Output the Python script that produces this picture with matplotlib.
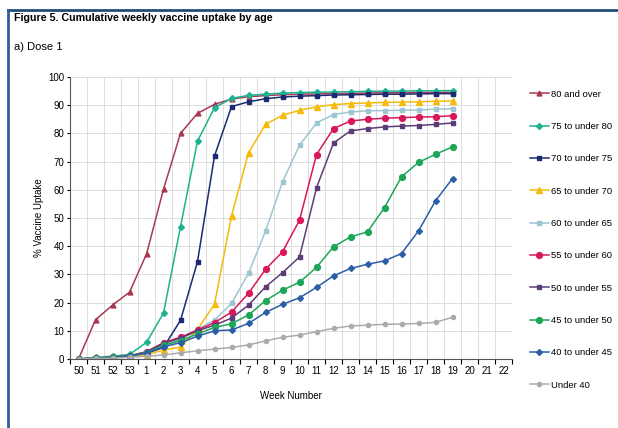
import matplotlib
matplotlib.use("Agg")
import matplotlib.pyplot as plt
from matplotlib.lines import Line2D
import numpy as np

plt.rcParams['font.family'] = ['Liberation Sans', 'DejaVu Sans']

weeks = ["50", "51", "52", "53"] + [str(i) for i in range(1, 23)]

series_names = ["80 and over", "75 to under 80", "70 to under 75", "65 to under 70",
                "60 to under 65", "55 to under 60", "50 to under 55", "45 to under 50",
                "40 to under 45", "Under 40"]

# values for weeks 50..53, 1..19
age80 = [0, 13.9, 19.1, 23.7, 37.2, 60.2, 80.0, 87.1, 90.3, 92.2, 93.0, 93.4, 93.7, 93.9,
         94.0, 94.1, 94.2, 94.3, 94.4, 94.4, 94.5, 94.5, 94.6]
age75 = [0, 0.6, 1.0, 1.6, 5.9, 16.3, 46.9, 77.3, 89.1, 92.4, 93.5, 93.9, 94.3, 94.5,
         94.6, 94.7, 94.8, 94.9, 95.0, 95.0, 95.1, 95.1, 95.2]
age70 = [0, 0.3, 0.6, 1.2, 2.0, 4.1, 13.7, 34.5, 72.0, 89.5, 91.2, 92.3, 92.9, 93.2,
         93.4, 93.6, 93.7, 93.8, 93.9, 93.9, 94.0, 94.1, 94.1]
age65 = [0, 0.2, 0.4, 0.8, 1.5, 3.2, 4.2, 10.5, 19.4, 50.7, 73.1, 83.2, 86.4, 88.2,
         89.4, 90.2, 90.6, 90.8, 91.0, 91.1, 91.2, 91.4, 91.5]
age60 = [0, 0.3, 0.6, 1.1, 2.4, 5.0, 6.8, 10.6, 13.8, 19.7, 30.4, 45.3, 62.8, 75.8,
         83.7, 86.7, 87.6, 88.0, 88.1, 88.2, 88.3, 88.6, 88.7]
age55 = [0, 0.3, 0.6, 1.1, 2.6, 5.8, 7.7, 10.3, 12.9, 16.6, 23.3, 31.8, 38.0, 49.2,
         72.5, 81.7, 84.4, 85.0, 85.4, 85.6, 85.8, 85.9, 86.3]
age50 = [0, 0.3, 0.6, 1.1, 2.5, 5.5, 7.4, 10.0, 12.0, 14.5, 19.1, 25.6, 30.6, 36.2,
         60.7, 76.6, 80.9, 81.7, 82.3, 82.6, 82.8, 83.2, 83.7]
age45 = [0, 0.3, 0.6, 1.0, 2.3, 4.8, 6.5, 8.9, 11.2, 12.5, 15.6, 20.7, 24.4, 27.2,
         32.5, 39.8, 43.3, 45.1, 53.7, 64.6, 69.7, 72.6, 75.2]
age40 = [0, 0.3, 0.5, 1.0, 2.1, 4.3, 5.8, 8.1, 10.0, 10.3, 12.6, 16.5, 19.4, 21.7,
         25.4, 29.5, 32.1, 33.6, 34.8, 37.4, 45.4, 56.1, 64.0]
under40 = [0, 0.2, 0.3, 0.6, 1.0, 1.4, 2.2, 2.9, 3.5, 4.1, 5.0, 6.4, 7.7, 8.5,
           9.7, 10.9, 11.7, 12.0, 12.3, 12.4, 12.6, 13.0, 14.8]

data = [age80, age75, age70, age65, age60, age55, age50, age45, age40, under40]
colors = ["#A63A50", "#1DB390", "#1B2A72", "#F5BA0A", "#9DC6D2",
          "#D8185A", "#5D3D78", "#1EA658", "#2C5EA8", "#ABABAB"]
markers = ["^", "D", "s", "^", "s", "o", "s", "o", "D", "o"]
msizes = [3.5, 3, 3.5, 4, 3.5, 4.2, 3.5, 4.2, 3, 3]

fig = plt.figure(figsize=(6.18, 4.28), dpi=100)
W, H = 618, 428

# frame lines
fig.add_artist(Line2D([8 / W, 1], [1 - 10 / H, 1 - 10 / H], color="#1F4E79", lw=2))
fig.add_artist(Line2D([8 / W, 8 / W], [0, 1 - 10 / H], color="#2E5E9E", lw=2))

fig.text(14 / W, 1 - 18 / H, "Figure 5. Cumulative weekly vaccine uptake by age",
         fontsize=7.7, fontweight="bold", va="center", ha="left")
fig.text(14 / W, 1 - 47 / H, "a) Dose 1", fontsize=8, va="center", ha="left")

ax = fig.add_axes([70 / W, 1 - 359 / H, (512 - 70) / W, (359 - 77) / H])

x = np.arange(len(age80))
handles = []
for vals, name, c, m, ms in zip(data, series_names, colors, markers, msizes):
    h, = ax.plot(x, vals, color=c, marker=m, markersize=ms, lw=1.1,
                 markeredgecolor=c, label=name)
    handles.append(h)

ax.set_xlim(-0.5, len(weeks) - 0.5)
ax.set_ylim(0, 100)
ax.set_yticks(np.arange(0, 101, 10))
ax.set_xticks(np.arange(len(weeks)))
ax.set_xticklabels(weeks)
ax.set_xticks(np.arange(-0.5, len(weeks), 1), minor=True)
ax.tick_params(axis="x", which="major", length=0, labelsize=7, pad=5)
ax.tick_params(axis="x", which="minor", length=3.5, direction="out", width=0.8)
ax.tick_params(axis="y", which="major", length=2.5, direction="out", labelsize=7,
               width=0.8, pad=1.5)
ax.grid(True, axis="x", which="minor", color="#DDDDDD", lw=0.7)
ax.grid(True, axis="y", which="major", color="#DDDDDD", lw=0.7)
ax.set_axisbelow(True)
for s in ["top", "right"]:
    ax.spines[s].set_visible(False)
ax.spines["left"].set_color("#555555")
ax.spines["bottom"].set_color("#555555")
ax.set_xlabel("Week Number", fontsize=7, labelpad=11)
ax.set_ylabel("% Vaccine Uptake", fontsize=7, labelpad=3)

fig.legend(handles=handles, loc="upper left", bbox_to_anchor=(525 / W, 1 - 85 / H),
           frameon=False, fontsize=6.8, labelspacing=2.47, handlelength=2.0,
           handletextpad=0.3, borderpad=0)

fig.savefig("out.png", dpi=100)
